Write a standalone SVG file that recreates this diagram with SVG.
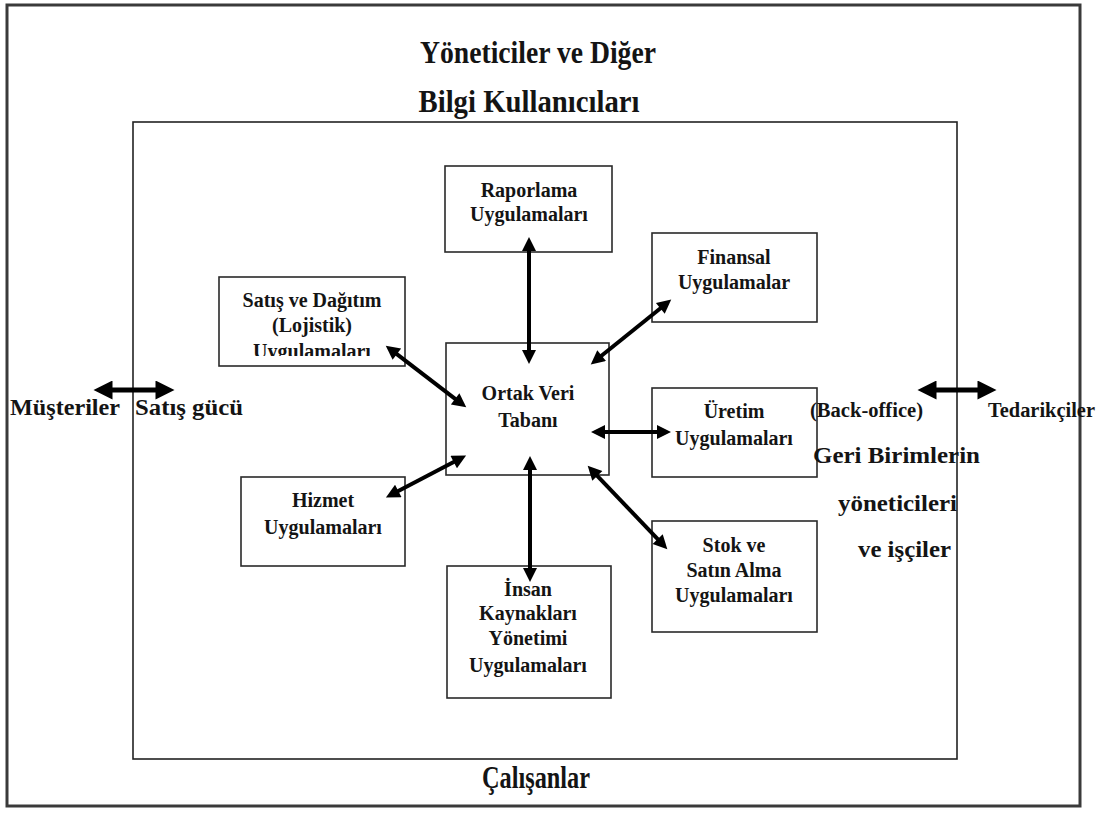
<svg xmlns="http://www.w3.org/2000/svg" width="1106" height="813" viewBox="0 0 1106 813">
<style>
text{font-family:"Liberation Serif","Times New Roman",serif;font-weight:bold;fill:#141414;}
.bt{font-size:20px;text-anchor:middle;}
.box{fill:#fff;stroke:#2a2a2a;stroke-width:1.6;}
.con{stroke:#000;stroke-width:4;fill:none;marker-start:url(#ah);marker-end:url(#ah);}
.big{stroke:#000;stroke-width:5;fill:none;marker-start:url(#ahb);marker-end:url(#ahb);}
.ttl{font-size:32px;text-anchor:middle;}
.side{font-size:24px;}
.sm{font-size:20px;}
</style>
<defs>
<marker id="ah" viewBox="0 0 10 10" refX="5" refY="5" markerWidth="17" markerHeight="14" markerUnits="userSpaceOnUse" orient="auto-start-reverse"><path d="M0,0 L10,5 L0,10 z" fill="#000"/></marker>
<marker id="ahb" viewBox="0 0 10 10" refX="5" refY="5" markerWidth="21" markerHeight="19" markerUnits="userSpaceOnUse" orient="auto-start-reverse"><path d="M0,0 L10,5 L0,10 z" fill="#000"/></marker>
<clipPath id="clipS"><rect x="219" y="277" width="186" height="79"/></clipPath>
</defs>
<rect width="1106" height="813" fill="#fff"/>
<g id="frame">
<rect x="7" y="5" width="1073" height="801" fill="none" stroke="#3a3a3a" stroke-width="3"/>
<rect x="133" y="122" width="824" height="637" fill="none" stroke="#222" stroke-width="1.6"/>
</g>
<g id="raporlama">
<rect class="box" x="445" y="166" width="167" height="86"/>
<text class="bt" x="529" y="197">Raporlama</text>
<text class="bt" x="529" y="221">Uygulamaları</text>
</g>
<g id="finansal">
<rect class="box" x="652" y="233" width="165" height="89"/>
<text class="bt" x="734" y="264">Finansal</text>
<text class="bt" x="734" y="289">Uygulamalar</text>
</g>
<g id="satis">
<rect class="box" x="219" y="277" width="186" height="89"/>
<text class="bt" x="312" y="307">Satış ve Dağıtım</text>
<text class="bt" x="312" y="332">(Lojistik)</text>
<text class="bt" x="312" y="358" clip-path="url(#clipS)">Uygulamaları</text>
</g>
<g id="ortak">
<rect class="box" x="446" y="343" width="163" height="132"/>
<text class="bt" x="528" y="400">Ortak Veri</text>
<text class="bt" x="528" y="427">Tabanı</text>
</g>
<g id="uretim">
<rect class="box" x="652" y="388" width="165" height="89"/>
<text class="bt" x="734" y="418">Üretim</text>
<text class="bt" x="734" y="445">Uygulamaları</text>
</g>
<g id="hizmet">
<rect class="box" x="241" y="477" width="164" height="89"/>
<text class="bt" x="323" y="507">Hizmet</text>
<text class="bt" x="323" y="534">Uygulamaları</text>
</g>
<g id="insan">
<rect class="box" x="447" y="566" width="164" height="132"/>
<text class="bt" x="528" y="596">İnsan</text>
<text class="bt" x="528" y="620">Kaynakları</text>
<text class="bt" x="528" y="645">Yönetimi</text>
<text class="bt" x="528" y="672">Uygulamaları</text>
</g>
<g id="stok">
<rect class="box" x="652" y="521" width="165" height="111"/>
<text class="bt" x="734" y="552">Stok ve</text>
<text class="bt" x="734" y="577">Satın Alma</text>
<text class="bt" x="734" y="602">Uygulamaları</text>
</g>
<g id="labels">
<text class="ttl" x="538" y="63" textLength="236" lengthAdjust="spacingAndGlyphs">Yöneticiler ve Diğer</text>
<text class="ttl" x="529" y="112" textLength="221" lengthAdjust="spacingAndGlyphs">Bilgi Kullanıcıları</text>
<text class="ttl" x="536" y="788" textLength="108" lengthAdjust="spacingAndGlyphs">Çalışanlar</text>
<text class="side" x="10" y="415" textLength="110" lengthAdjust="spacingAndGlyphs">Müşteriler</text>
<text class="side" x="135" y="415" textLength="108" lengthAdjust="spacingAndGlyphs">Satış gücü</text>
<text class="sm" x="810" y="417" textLength="113" lengthAdjust="spacingAndGlyphs">(Back-office)</text>
<text class="sm" x="988" y="417" textLength="107" lengthAdjust="spacingAndGlyphs">Tedarikçiler</text>
<text class="side" x="813" y="463" textLength="167" lengthAdjust="spacingAndGlyphs">Geri Birimlerin</text>
<text class="side" x="838" y="511" textLength="119" lengthAdjust="spacingAndGlyphs">yöneticileri</text>
<text class="side" x="858" y="557" textLength="93" lengthAdjust="spacingAndGlyphs">ve işçiler</text>
</g>
<g id="connectors">
<line class="con" x1="529" y1="244" x2="529" y2="357"/>
<line class="con" x1="596.2" y1="360" x2="665.8" y2="304"/>
<line class="con" x1="391.3" y1="349.9" x2="460.7" y2="403.1"/>
<line class="con" x1="598" y1="432" x2="664" y2="432"/>
<line class="con" x1="392.1" y1="494.3" x2="459.9" y2="458.7"/>
<line class="con" x1="530" y1="463" x2="530" y2="575"/>
<line class="con" x1="592.5" y1="470.8" x2="662.5" y2="544.2"/>
<line class="big" x1="103" y1="390" x2="165" y2="390"/>
<line class="big" x1="927" y1="390" x2="987" y2="390"/>
</g>
</svg>
